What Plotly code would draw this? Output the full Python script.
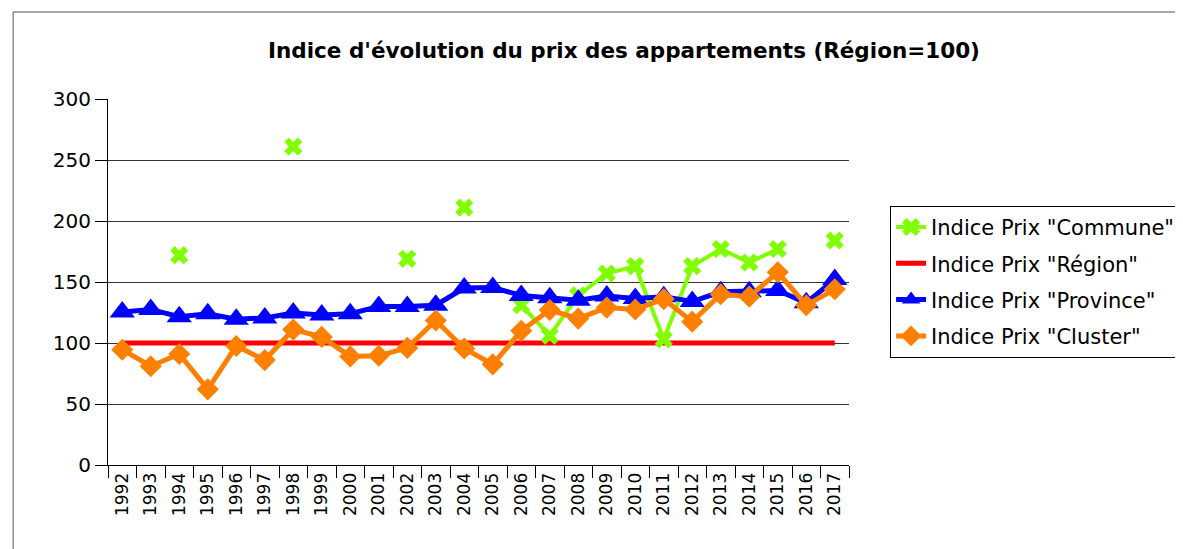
import plotly.graph_objects as go

years = [str(y) for y in range(1992, 2018)]

commune = [None, None, 172, None, None, None, 261, None, None, None, 169, None, 211, None,
           131, 106, 139, 157, 163, 103, 163, 177, 166, 177, None, 184]
region = [100] * 26
province = [125.5, 127.5, 121.5, 124, 119.5, 120.5, 124.5, 123, 124, 130, 130, 131, 145, 145.5,
            139, 137, 135, 138.5, 136.5, 138, 134, 142, 142, 143, 133, 152]
cluster = [94.5, 81, 91, 62, 97.5, 86, 111, 105, 89, 89.5, 96, 118.5, 95.5, 82.5,
           110, 127, 120, 129, 127.5, 136, 117.5, 140, 138, 158, 131, 144]

FONT = "DejaVu Sans"

fig = go.Figure()
fig.add_trace(go.Scatter(x=years, y=region, name='Indice Prix "Région"', mode="lines",
                         line=dict(color="#FF0000", width=5), legendrank=2,
                         legendgroup="b"))
fig.add_trace(go.Scatter(x=years, y=commune, name='Indice Prix "Commune"', mode="lines+markers",
                         line=dict(color="#80FF00", width=4), connectgaps=False,
                         marker=dict(symbol="x", size=16, color="#80FF00"), legendrank=1,
                         legendgroup="a"))
fig.add_trace(go.Scatter(x=years, y=province, name='Indice Prix "Province"', mode="lines+markers",
                         line=dict(color="#0000FF", width=5),
                         marker=dict(symbol="triangle-up", size=22, color="#0000FF"), legendrank=3,
                         legendgroup="c"))
fig.add_trace(go.Scatter(x=years, y=cluster, name='Indice Prix "Cluster"', mode="lines+markers",
                         line=dict(color="#FF8000", width=5),
                         marker=dict(symbol="diamond", size=17, color="#FF8000"), legendrank=4,
                         legendgroup="d"))

fig.update_layout(
    width=1183, height=549,
    margin=dict(l=100, r=341, t=91, b=92),
    paper_bgcolor="white", plot_bgcolor="white",
    font=dict(family=FONT, color="black"),
    title=dict(text="<b>Indice d'évolution du prix des appartements (Région=100)</b>",
               x=616 / 1183, xref="container", xanchor="center",
               y=1 - 42 / 549, yref="container", yanchor="middle",
               font=dict(family=FONT, size=21.5, color="black")),
    legend=dict(x=1.054, y=0.708, xanchor="left", yanchor="top",
                bordercolor="black", borderwidth=1, bgcolor="white",
                font=dict(family=FONT, size=21, color="black"),
                traceorder="grouped", tracegroupgap=6, itemwidth=30),
    showlegend=True,
)
fig.update_xaxes(type="category", range=[-0.5, 25.5], tickangle=-90,
                 tickson="boundaries", ticks="outside", ticklen=12, tickcolor="black",
                 showline=True, linecolor="black", linewidth=1, showgrid=False,
                 tickfont=dict(family=FONT, size=17, color="black"))
fig.update_yaxes(range=[0, 300], dtick=50, ticks="outside", ticklen=12, tickcolor="black",
                 showline=True, linecolor="black", linewidth=1,
                 showgrid=True, gridcolor="#333333", gridwidth=1, zeroline=False,
                 tickfont=dict(family=FONT, size=20, color="black"))

fig.add_shape(type="rect", xref="paper", yref="paper",
              x0=(13 - 108) / 742, x1=(1180 - 108) / 742,
              y0=-0.5, y1=(465 - 12) / 366,
              line=dict(color="#555555", width=1), fillcolor="rgba(0,0,0,0)", layer="below")

fig.write_html("out.html")
